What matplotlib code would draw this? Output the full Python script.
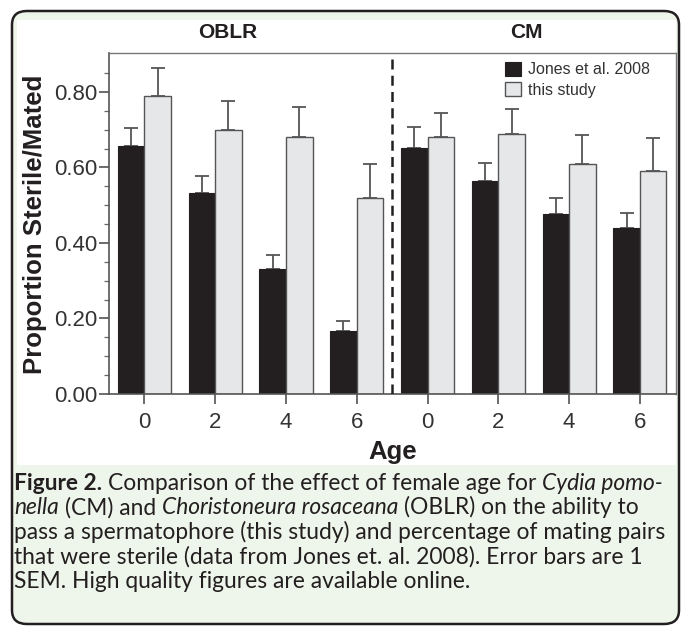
import numpy as np
import matplotlib
matplotlib.use('Agg')
import matplotlib.pyplot as plt
from matplotlib.patches import FancyBboxPatch, Rectangle

# data
ages = ['0', '2', '4', '6', '0', '2', '4', '6']
jones = [0.657, 0.532, 0.330, 0.168, 0.652, 0.563, 0.476, 0.439]
jones_err = [0.048, 0.044, 0.038, 0.026, 0.056, 0.048, 0.043, 0.041]
study = [0.789, 0.699, 0.680, 0.519, 0.681, 0.689, 0.609, 0.590]
study_err = [0.074, 0.078, 0.081, 0.091, 0.064, 0.066, 0.077, 0.089]
groups = ['OBLR', 'CM']
legend_labels = ['Jones et al. 2008', 'this study']

W, H = 681, 626
fig = plt.figure(figsize=(W / 100, H / 100), dpi=100, facecolor='white')

def fx(x):
    return x / W

def fy(y):
    return 1 - y / H

# rounded green frame and white chart panel, kept behind the axes
frame = FancyBboxPatch((fx(12), fy(624)), fx(667), fy(11) - fy(624),
                       boxstyle='round,pad=0,rounding_size=0.022',
                       transform=fig.transFigure, facecolor='#eef5ea',
                       edgecolor='#231f20', linewidth=1.8, zorder=-2)
fig.add_artist(frame)
fig.add_artist(Rectangle((fx(17), fy(465)), fx(676) - fx(17), fy(20) - fy(465),
                         transform=fig.transFigure, facecolor='white',
                         edgecolor='none', zorder=-1))

plt.rcParams['font.family'] = ['Liberation Sans', 'DejaVu Sans']

ax = fig.add_axes([fx(109), fy(394), fx(676) - fx(109), fy(53) - fy(394)])
ax.set_facecolor('none')

x = np.arange(len(ages))
w = 0.375
zeros = np.zeros(len(ages))
ax.bar(x - w / 2, jones, w, color='#231f20', edgecolor='#231f20', linewidth=0.8,
       label=legend_labels[0], zorder=2)
ax.bar(x + w / 2, study, w, color='#e6e7e8', edgecolor='#555555', linewidth=1.0,
       label=legend_labels[1], zorder=2)
ax.errorbar(x - w / 2, jones, yerr=[zeros, jones_err], fmt='none',
            ecolor='#555555', elinewidth=1.3, capsize=5, capthick=1.3, zorder=1)
ax.errorbar(x + w / 2, study, yerr=[zeros, study_err], fmt='none',
            ecolor='#555555', elinewidth=1.3, capsize=5, capthick=1.3, zorder=1)

ax.axvline(3.5, color='#231f20', linestyle=(0, (4, 2.5)), linewidth=1.8, zorder=3)

ax.set_xlim(-0.5, 7.51)
ax.set_ylim(0, 0.903)
ax.set_xticks(x)
ax.set_xticklabels(ages)
ax.set_yticks(np.arange(0, 0.81, 0.2))
ax.set_yticklabels(['%.2f' % v for v in np.arange(0, 0.81, 0.2)])
ax.set_yticks(np.arange(0, 0.9, 0.05), minor=True)
ax.tick_params(axis='both', which='major', labelsize=16, colors='#444444',
               labelcolor='#333333', length=7, width=1.1)
ax.tick_params(axis='y', which='major', pad=1.5)
ax.tick_params(axis='x', which='major', pad=6)
ax.tick_params(axis='y', which='minor', length=3.5, width=0.9, colors='#666666')
ax.tick_params(axis='x', which='minor', length=0)

for side in ['left', 'bottom']:
    ax.spines[side].set_color('#555555')
    ax.spines[side].set_linewidth(1.2)
for side in ['top', 'right']:
    ax.spines[side].set_color('#777777')
    ax.spines[side].set_linewidth(1.0)

fig.text(fx(35), fy(224), 'Proportion Sterile/Mated', fontsize=18.5,
         fontweight='bold', color='#231f20', rotation=90, ha='center', va='center')
fig.text(fx(393), fy(459), 'Age', fontsize=18.5, fontweight='bold',
         color='#231f20', ha='center', va='baseline')
ax.text(1.17, 1.0 + 20 / 341, groups[0], transform=ax.get_xaxis_transform(),
        fontsize=15, fontweight='bold', color='#231f20', ha='center', va='center')
ax.text(5.39, 1.0 + 20 / 341, groups[1], transform=ax.get_xaxis_transform(),
        fontsize=15, fontweight='bold', color='#231f20', ha='center', va='center')

ax.legend(loc='upper left', bbox_to_anchor=(fx(497), fy(54)),
          bbox_transform=fig.transFigure, frameon=False, fontsize=11.5,
          handlelength=1.0, handleheight=0.95, handletextpad=0.45,
          labelspacing=0.3, borderpad=0, labelcolor='#333333')

# caption, set piece by piece so bold and italic runs sit inline
caption = [
    [('Figure 2.', 'bold'), ('Comparison of the effect of female age for', 'normal'),
     ('Cydia pomo-', 'italic')],
    [('nella', 'italic'), ('(CM) and', 'normal'), ('Choristoneura rosaceana', 'italic'),
     ('(OBLR) on the ability to', 'normal')],
    [('pass a spermatophore (this study) and percentage of mating pairs', 'normal')],
    [('that were sterile (data from Jones et. al. 2008). Error bars are 1', 'normal')],
    [('SEM. High quality figures are available online.', 'normal')],
]
cap_size = 16.4
cap_font = ['Lato', 'DejaVu Sans']
renderer = fig.canvas.get_renderer()

def text_width(s, style):
    t = fig.text(0, 0, s, fontsize=cap_size, family=cap_font,
                 fontweight='bold' if style == 'bold' else 'normal',
                 fontstyle='italic' if style == 'italic' else 'normal')
    wd = t.get_window_extent(renderer).width
    t.remove()
    return wd

space = text_width('a a', 'normal') - text_width('aa', 'normal')

for i, line in enumerate(caption):
    xpos = 14
    ybase = 490 + i * 24.5
    for s, style in line:
        t = fig.text(fx(xpos), fy(ybase), s, fontsize=cap_size, family=cap_font,
                     fontweight='bold' if style == 'bold' else 'normal',
                     fontstyle='italic' if style == 'italic' else 'normal',
                     color='#231f20', va='baseline', ha='left')
        xpos += t.get_window_extent(renderer).width + space

fig.savefig('out.png', dpi=100, facecolor='white')
